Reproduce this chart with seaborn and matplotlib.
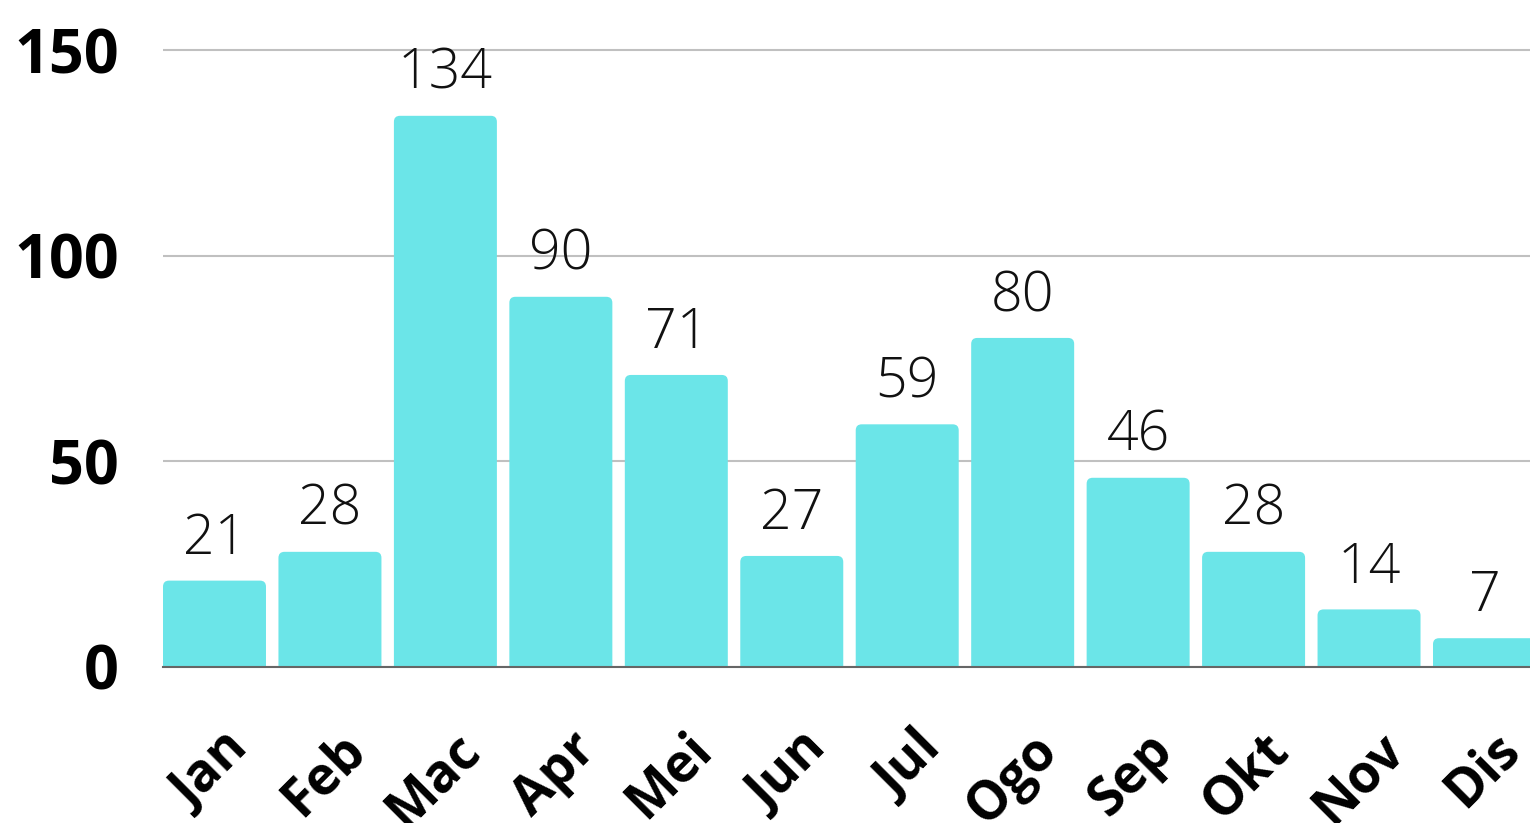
import matplotlib
matplotlib.use("Agg")
import matplotlib.pyplot as plt
import matplotlib.transforms as mtransforms
import seaborn as sns
import pandas as pd
from matplotlib.patches import FancyBboxPatch

months = ["Jan", "Feb", "Mac", "Apr", "Mei", "Jun", "Jul", "Ogo", "Sep", "Okt", "Nov", "Dis"]
values = [21, 28, 134, 90, 71, 27, 59, 80, 46, 28, 14, 7]
yticks = [0, 50, 100, 150]

bar_color = "#6be5e8"

sns.set_theme(style="white")
plt.rcParams["font.family"] = ["Open Sans", "DejaVu Sans"]

df = pd.DataFrame({"month": months, "value": values})

W, H = 1530, 823
fig = plt.figure(figsize=(W / 100, H / 100), dpi=100)
left_px, right_px, base_px, top_px = 163, 1530, 667, 0
ax = fig.add_axes([left_px / W, (H - base_px) / H, (right_px - left_px) / W, (base_px - top_px) / H])

bw = 0.892
sns.barplot(data=df, x="month", y="value", color=bar_color, width=bw, ax=ax,
            saturation=1, edgecolor="none", linewidth=0)

y_top = 150 * (base_px - top_px) / (base_px - 50)
ax.set_ylim(0, y_top)
ax.set_xlim(-bw / 2, -bw / 2 + (right_px - left_px) / ((1433 - 163) / 11))

# rounded top corners
px_per_x = (1433 - 163) / 11
px_per_y = (base_px - 50) / 150
r_x = 6 / px_per_x
aspect = px_per_x / px_per_y
for p in list(ax.patches):
    x, y = p.get_x(), p.get_y()
    w, h = p.get_width(), p.get_height()
    ext = r_x * aspect
    fb = FancyBboxPatch((x, y - ext), w, h + ext,
                        boxstyle=f"round,pad=0,rounding_size={r_x}",
                        mutation_aspect=aspect, facecolor=bar_color,
                        edgecolor="none", linewidth=0, zorder=2, clip_on=True)
    ax.add_patch(fb)
    p.set_visible(False)

for i, v in enumerate(values):
    ax.annotate(str(v), (i, v), xytext=(0, 10), textcoords="offset points",
                ha="center", va="bottom", fontsize=40, fontweight="light", color="#111111")

ax.set_yticks(yticks)
ax.set_yticklabels([str(t) for t in yticks], fontsize=44, fontweight="bold", color="black")
ax.yaxis.grid(True, color="#c0c0c0", linewidth=1.5, zorder=0)
ax.set_axisbelow(True)
ax.tick_params(axis="y", length=0, pad=32)
ax.tick_params(axis="x", length=0, pad=40)
offset = mtransforms.ScaledTranslation(46 / 100, 0, fig.dpi_scale_trans)
for lab in ax.get_xticklabels():
    lab.set_rotation(45)
    lab.set_ha("right")
    lab.set_va("top")
    lab.set_fontsize(38)
    lab.set_fontweight("bold")
    lab.set_color("black")
    lab.set_transform(lab.get_transform() + offset)

ax.set_xlabel("")
ax.set_ylabel("")
for s in ["top", "right", "left"]:
    ax.spines[s].set_visible(False)
ax.spines["bottom"].set_color("#666666")
ax.spines["bottom"].set_linewidth(1.5)
ax.spines["bottom"].set_zorder(3)

fig.savefig("out.png", dpi=100)
